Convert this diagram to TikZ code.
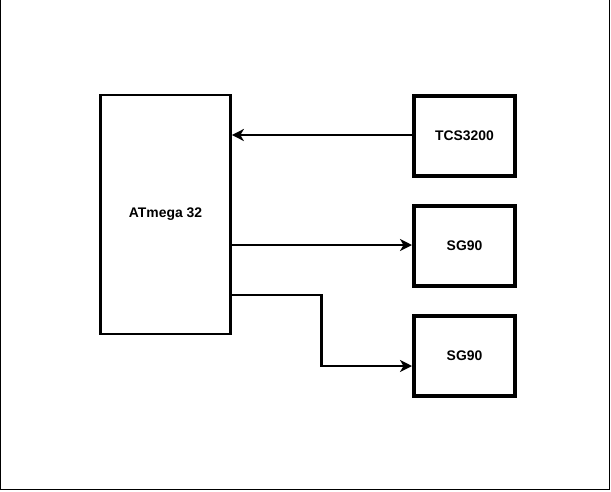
\documentclass[tikz,border=0pt]{standalone}
\usepackage{fontspec}
\setmainfont{Liberation Sans}
\usetikzlibrary{arrows.meta}
\begin{document}
\begin{tikzpicture}[x=1pt,y=-1pt,
  blockbox/.style={draw=black,line width=2.7pt,fill=white,inner sep=0pt,font=\fontsize{13.9}{16}\selectfont\bfseries},
  partbox/.style={draw=black,line width=4pt,fill=white,inner sep=0pt,font=\fontsize{13.9}{16}\selectfont\bfseries},
  conn/.style={line width=2.7pt,-{Stealth[length=12pt,width=12pt,inset=3.5pt]}}]
\useasboundingbox (0,0) rectangle (611,491);
\draw[line width=1.2pt] (0.6,0) coordinate (fa) -- (0.6,489.4) coordinate (fb) -- (609.4,489.4) coordinate (fc) -- (609.4,0) coordinate (fd);
\node[blockbox,minimum width=130pt,minimum height=239pt] (atm) at (165.5,214.5) {ATmega 32};
\node[partbox,minimum width=101pt,minimum height=80pt] (tcs) at (464.5,136) {TCS3200};
\node[partbox,minimum width=101pt,minimum height=80pt] (sg1) at (464.5,245.5) {SG90};
\node[partbox,minimum width=101pt,minimum height=80pt] (sg2) at (464.5,355.5) {SG90};
\draw[conn] (tcs.west |- 0,135) -- (atm.east |- 0,135);
\draw[conn] (atm.east |- 0,245) -- (sg1.west |- 0,245);
\draw[conn] (atm.east |- 0,295) -- (321.5,295) -- (321.5,366) -- (sg2.west |- 0,366);
\end{tikzpicture}
\end{document}
